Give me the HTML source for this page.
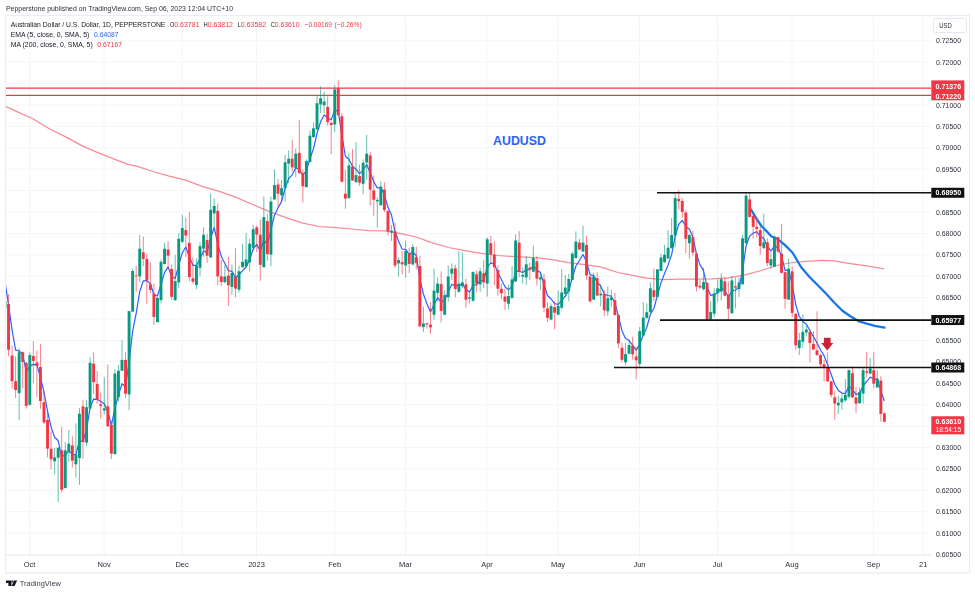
<!DOCTYPE html>
<html><head><meta charset="utf-8"><title>AUDUSD</title>
<style>
html,body{margin:0;padding:0;background:#fff;}
body{width:975px;height:594px;overflow:hidden;position:relative;font-family:"Liberation Sans",sans-serif;}
svg{position:absolute;left:0;top:0;filter:blur(0.45px);}
text{font-family:"Liberation Sans",sans-serif;}
</style></head><body>
<svg width="975" height="594" viewBox="0 0 975 594">
<defs><clipPath id="cp"><rect x="6" y="16" width="925" height="539"/></clipPath></defs>

<rect x="5.5" y="15.5" width="964" height="557.5" fill="#fff" stroke="#ebedf4" stroke-width="1.2"/>
<line x1="6" x2="931" y1="40.80" y2="40.80" stroke="#f3f5f8" stroke-width="1"/>
<line x1="6" x2="931" y1="62.20" y2="62.20" stroke="#f3f5f8" stroke-width="1"/>
<line x1="6" x2="931" y1="83.61" y2="83.61" stroke="#f3f5f8" stroke-width="1"/>
<line x1="6" x2="931" y1="105.01" y2="105.01" stroke="#f3f5f8" stroke-width="1"/>
<line x1="6" x2="931" y1="126.42" y2="126.42" stroke="#f3f5f8" stroke-width="1"/>
<line x1="6" x2="931" y1="147.82" y2="147.82" stroke="#f3f5f8" stroke-width="1"/>
<line x1="6" x2="931" y1="169.22" y2="169.22" stroke="#f3f5f8" stroke-width="1"/>
<line x1="6" x2="931" y1="190.63" y2="190.63" stroke="#f3f5f8" stroke-width="1"/>
<line x1="6" x2="931" y1="212.03" y2="212.03" stroke="#f3f5f8" stroke-width="1"/>
<line x1="6" x2="931" y1="233.44" y2="233.44" stroke="#f3f5f8" stroke-width="1"/>
<line x1="6" x2="931" y1="254.84" y2="254.84" stroke="#f3f5f8" stroke-width="1"/>
<line x1="6" x2="931" y1="276.24" y2="276.24" stroke="#f3f5f8" stroke-width="1"/>
<line x1="6" x2="931" y1="297.65" y2="297.65" stroke="#f3f5f8" stroke-width="1"/>
<line x1="6" x2="931" y1="319.05" y2="319.05" stroke="#f3f5f8" stroke-width="1"/>
<line x1="6" x2="931" y1="340.46" y2="340.46" stroke="#f3f5f8" stroke-width="1"/>
<line x1="6" x2="931" y1="361.86" y2="361.86" stroke="#f3f5f8" stroke-width="1"/>
<line x1="6" x2="931" y1="383.26" y2="383.26" stroke="#f3f5f8" stroke-width="1"/>
<line x1="6" x2="931" y1="404.67" y2="404.67" stroke="#f3f5f8" stroke-width="1"/>
<line x1="6" x2="931" y1="426.07" y2="426.07" stroke="#f3f5f8" stroke-width="1"/>
<line x1="6" x2="931" y1="447.48" y2="447.48" stroke="#f3f5f8" stroke-width="1"/>
<line x1="6" x2="931" y1="468.88" y2="468.88" stroke="#f3f5f8" stroke-width="1"/>
<line x1="6" x2="931" y1="490.28" y2="490.28" stroke="#f3f5f8" stroke-width="1"/>
<line x1="6" x2="931" y1="511.69" y2="511.69" stroke="#f3f5f8" stroke-width="1"/>
<line x1="6" x2="931" y1="533.09" y2="533.09" stroke="#f3f5f8" stroke-width="1"/>
<line x1="6" x2="931" y1="554.50" y2="554.50" stroke="#f3f5f8" stroke-width="1"/>
<line x1="29.6" x2="29.6" y1="16" y2="558" stroke="#f3f5f8" stroke-width="1"/>
<line x1="104.1" x2="104.1" y1="16" y2="558" stroke="#f3f5f8" stroke-width="1"/>
<line x1="182.1" x2="182.1" y1="16" y2="558" stroke="#f3f5f8" stroke-width="1"/>
<line x1="256.5" x2="256.5" y1="16" y2="558" stroke="#f3f5f8" stroke-width="1"/>
<line x1="334.6" x2="334.6" y1="16" y2="558" stroke="#f3f5f8" stroke-width="1"/>
<line x1="405.5" x2="405.5" y1="16" y2="558" stroke="#f3f5f8" stroke-width="1"/>
<line x1="487.0" x2="487.0" y1="16" y2="558" stroke="#f3f5f8" stroke-width="1"/>
<line x1="558.0" x2="558.0" y1="16" y2="558" stroke="#f3f5f8" stroke-width="1"/>
<line x1="639.5" x2="639.5" y1="16" y2="558" stroke="#f3f5f8" stroke-width="1"/>
<line x1="717.5" x2="717.5" y1="16" y2="558" stroke="#f3f5f8" stroke-width="1"/>
<line x1="792.0" x2="792.0" y1="16" y2="558" stroke="#f3f5f8" stroke-width="1"/>
<line x1="873.5" x2="873.5" y1="16" y2="558" stroke="#f3f5f8" stroke-width="1"/>
<line x1="923.2" x2="923.2" y1="16" y2="558" stroke="#f3f5f8" stroke-width="1"/>
<line x1="6" x2="931" y1="555" y2="555" stroke="#e9ebf0" stroke-width="1"/>
<g clip-path="url(#cp)">
<polyline points="6.0,106.5 16.4,111.4 32.8,118.8 49.3,128.7 65.7,136.9 82.1,145.9 98.5,152.8 114.9,159.4 128.0,164.3 136.4,166.2 152.8,171.5 169.3,176.1 185.7,180.2 202.1,186.3 218.5,191.2 234.9,196.9 251.4,204.0 267.8,210.9 286.4,217.8 302.8,223.2 319.3,226.5 335.7,227.7 352.1,229.0 368.5,230.6 384.9,230.9 401.4,233.6 417.8,237.5 430.0,242.1 448.5,247.5 465.0,250.7 481.4,253.4 497.8,255.5 519.3,256.9 535.7,257.7 552.1,259.7 568.5,262.6 584.9,264.6 601.4,267.2 617.8,272.5 630.0,274.8 646.4,278.1 662.8,279.7 679.3,279.2 695.7,279.1 712.1,278.9 728.5,277.9 745.0,274.8 761.4,270.5 776.4,265.5 792.8,262.5 809.3,261.2 822.4,260.4 833.9,260.9 850.3,263.7 866.7,265.8 884.0,268.9" fill="none" stroke="#f78a93" stroke-width="1.25" stroke-linejoin="round"/>
<line x1="6" x2="931.5" y1="88.20" y2="88.20" stroke="#f23645" stroke-width="1.3"/>
<line x1="6" x2="931.5" y1="95.35" y2="95.35" stroke="#f23645" stroke-width="1.3"/>
<polyline points="5.0,282.0 8.5,304.6 12.1,330.1 15.6,350.1 19.2,350.8 22.7,354.5 26.3,371.6 29.8,366.1 33.3,364.4 36.9,364.9 40.4,377.0 44.0,392.1 47.5,411.0 51.1,427.1 54.6,437.2 58.2,440.7 61.7,457.1 65.3,454.8 68.8,451.1 72.4,454.3 75.9,454.5 79.4,440.9 83.0,441.3 86.5,429.9 90.1,407.6 93.6,399.1 97.2,399.3 100.7,401.5 104.3,403.8 107.8,411.3 111.4,425.4 114.9,408.1 118.4,395.6 122.0,383.7 125.5,387.0 129.1,361.7 132.6,331.5 136.2,313.1 139.7,291.6 143.3,280.8 146.8,280.6 150.4,283.7 153.9,294.8 157.5,295.8 161.0,284.5 164.5,272.6 168.1,266.9 171.6,276.9 175.2,278.3 178.7,265.2 182.3,252.8 185.8,247.0 189.4,257.1 192.9,265.3 196.5,265.4 200.0,259.0 203.6,250.9 207.1,252.5 210.6,238.3 214.2,227.5 217.7,243.8 221.3,256.5 224.8,263.2 228.4,270.6 231.9,271.4 235.5,277.1 239.0,275.2 242.6,270.7 246.1,267.0 249.7,259.2 253.2,249.2 256.7,244.4 260.3,251.2 263.8,239.8 267.4,244.6 270.9,230.2 274.5,215.2 278.0,208.0 281.6,201.4 285.1,188.4 288.7,178.5 292.2,174.8 295.8,167.8 299.3,169.5 302.8,175.1 306.4,170.5 309.9,158.9 313.5,148.7 317.0,133.5 320.6,121.7 324.1,115.0 327.7,117.4 331.2,119.9 334.8,109.8 338.3,111.6 341.8,134.9 345.4,156.2 348.9,159.2 352.5,166.3 356.0,169.2 359.6,173.7 363.1,170.1 366.7,164.6 370.2,172.9 373.8,181.9 377.3,187.9 380.9,187.5 384.4,195.0 387.9,207.1 391.5,215.0 395.0,231.8 398.6,241.2 402.1,249.0 405.7,249.7 409.2,254.4 412.8,252.0 416.3,255.7 419.9,279.2 423.4,294.0 427.0,304.1 430.5,311.9 434.0,304.8 437.6,297.7 441.1,302.1 444.7,299.8 448.2,292.0 451.8,284.3 455.3,285.9 458.9,285.1 462.4,284.2 466.0,289.4 469.5,292.0 473.1,285.4 476.6,284.8 480.1,280.3 483.7,281.0 487.2,267.1 490.8,262.9 494.3,264.3 497.9,272.4 501.4,279.4 505.0,286.8 508.5,289.9 512.1,286.4 515.6,271.1 519.1,271.3 522.7,272.5 526.2,269.8 529.8,269.7 533.3,265.8 536.9,270.1 540.4,272.5 544.0,284.3 547.5,295.5 551.1,299.0 554.6,303.6 558.2,304.3 561.7,300.4 565.2,296.1 568.8,290.4 572.3,278.1 575.9,266.0 579.4,260.5 583.0,254.5 586.5,261.5 590.1,274.8 593.6,275.4 597.2,282.1 600.7,286.0 604.3,294.1 607.8,295.5 611.3,296.2 614.9,302.5 618.4,316.1 622.0,330.7 625.5,338.4 629.1,340.6 632.6,345.2 636.2,350.2 639.7,343.9 643.3,335.1 646.8,327.5 650.3,314.4 653.9,308.5 657.4,295.5 661.0,282.8 664.5,273.5 668.1,264.9 671.6,254.9 675.2,236.0 678.7,224.4 682.3,220.3 685.8,226.5 689.4,229.3 692.9,237.1 696.4,253.6 700.0,264.9 703.5,270.6 707.1,286.9 710.6,295.3 714.2,294.7 717.7,292.6 721.3,288.1 724.8,290.6 728.4,296.7 731.9,291.3 735.5,290.0 739.0,287.5 742.5,271.1 746.1,245.9 749.6,236.3 753.2,233.1 756.7,231.7 760.3,236.5 763.8,238.4 767.4,246.6 770.9,250.8 774.5,246.1 778.0,247.9 781.6,256.2 785.1,270.4 788.6,269.8 792.2,284.2 795.7,304.6 799.3,316.5 802.8,321.6 806.4,324.2 809.9,330.5 813.5,336.8 817.0,342.9 820.6,350.0 824.1,355.9 827.6,364.4 831.2,374.5 834.7,384.2 838.3,390.4 841.8,393.1 845.4,393.7 848.9,385.9 852.5,389.7 856.0,394.3 859.6,393.6 863.1,385.8 866.7,381.5 870.2,377.1 873.7,379.3 877.3,379.1 880.8,390.7 884.4,401.0" fill="none" stroke="#2962ff" stroke-width="1.2" stroke-linejoin="round"/>
<polyline points="750.7,209.2 756.4,218.6 761.4,226.0 766.3,230.9 771.5,236.5 777.8,239.0 782.7,243.2 786.3,246.4 792.8,253.0 801.0,267.0 809.3,276.8 817.5,285.0 825.7,293.2 833.9,302.2 842.1,310.5 850.3,316.2 858.5,321.1 866.7,323.6 874.9,325.8 884.5,327.6" fill="none" stroke="#1976e8" stroke-width="2.3" stroke-linejoin="round" stroke-linecap="round"/>
<rect x="4.48" y="300.0" width="1.0" height="8.0" fill="#089981" opacity="0.62"/>
<rect x="3.53" y="301.0" width="2.9" height="6.6" fill="#089981"/>
<rect x="8.02" y="294.2" width="1.0" height="62.1" fill="#f23645" opacity="0.62"/>
<rect x="7.07" y="304.0" width="2.9" height="45.7" fill="#f23645"/>
<rect x="11.57" y="345.6" width="1.0" height="42.7" fill="#f23645" opacity="0.62"/>
<rect x="10.62" y="355.5" width="2.9" height="25.7" fill="#f23645"/>
<rect x="15.12" y="356.3" width="1.0" height="41.7" fill="#f23645" opacity="0.62"/>
<rect x="14.17" y="381.2" width="2.9" height="8.8" fill="#f23645"/>
<rect x="18.66" y="348.4" width="1.0" height="71.6" fill="#089981" opacity="0.62"/>
<rect x="17.71" y="352.2" width="2.9" height="41.0" fill="#089981"/>
<rect x="22.21" y="351.3" width="1.0" height="37.0" fill="#f23645" opacity="0.62"/>
<rect x="21.26" y="352.2" width="2.9" height="9.8" fill="#f23645"/>
<rect x="25.75" y="362.0" width="1.0" height="46.5" fill="#f23645" opacity="0.62"/>
<rect x="24.80" y="362.8" width="2.9" height="43.1" fill="#f23645"/>
<rect x="29.30" y="352.2" width="1.0" height="53.3" fill="#089981" opacity="0.62"/>
<rect x="28.35" y="355.0" width="2.9" height="49.7" fill="#089981"/>
<rect x="32.85" y="341.2" width="1.0" height="41.7" fill="#f23645" opacity="0.62"/>
<rect x="31.90" y="356.0" width="2.9" height="4.9" fill="#f23645"/>
<rect x="36.39" y="350.5" width="1.0" height="46.5" fill="#f23645" opacity="0.62"/>
<rect x="35.44" y="362.5" width="2.9" height="3.6" fill="#f23645"/>
<rect x="39.94" y="344.0" width="1.0" height="64.8" fill="#f23645" opacity="0.62"/>
<rect x="38.99" y="367.0" width="2.9" height="34.0" fill="#f23645"/>
<rect x="43.48" y="390.8" width="1.0" height="33.2" fill="#f23645" opacity="0.62"/>
<rect x="42.53" y="402.2" width="2.9" height="20.2" fill="#f23645"/>
<rect x="47.03" y="413.0" width="1.0" height="44.4" fill="#f23645" opacity="0.62"/>
<rect x="46.08" y="420.0" width="2.9" height="28.7" fill="#f23645"/>
<rect x="50.58" y="431.4" width="1.0" height="37.8" fill="#f23645" opacity="0.62"/>
<rect x="49.63" y="448.7" width="2.9" height="10.6" fill="#f23645"/>
<rect x="54.12" y="447.8" width="1.0" height="26.6" fill="#089981" opacity="0.62"/>
<rect x="53.17" y="457.4" width="2.9" height="3.9" fill="#089981"/>
<rect x="57.67" y="447.0" width="1.0" height="55.0" fill="#089981" opacity="0.62"/>
<rect x="56.72" y="447.8" width="2.9" height="9.9" fill="#089981"/>
<rect x="61.21" y="426.8" width="1.0" height="65.7" fill="#f23645" opacity="0.62"/>
<rect x="60.26" y="450.3" width="2.9" height="39.4" fill="#f23645"/>
<rect x="64.76" y="442.0" width="1.0" height="46.5" fill="#089981" opacity="0.62"/>
<rect x="63.81" y="450.3" width="2.9" height="37.7" fill="#089981"/>
<rect x="68.31" y="430.0" width="1.0" height="31.8" fill="#089981" opacity="0.62"/>
<rect x="67.36" y="443.7" width="2.9" height="8.3" fill="#089981"/>
<rect x="71.85" y="436.3" width="1.0" height="31.2" fill="#f23645" opacity="0.62"/>
<rect x="70.90" y="445.4" width="2.9" height="15.2" fill="#f23645"/>
<rect x="75.40" y="423.2" width="1.0" height="54.2" fill="#089981" opacity="0.62"/>
<rect x="74.45" y="454.9" width="2.9" height="9.4" fill="#089981"/>
<rect x="78.94" y="408.0" width="1.0" height="76.8" fill="#089981" opacity="0.62"/>
<rect x="77.99" y="413.7" width="2.9" height="44.3" fill="#089981"/>
<rect x="82.49" y="399.8" width="1.0" height="59.2" fill="#f23645" opacity="0.62"/>
<rect x="81.54" y="406.4" width="2.9" height="35.7" fill="#f23645"/>
<rect x="86.04" y="399.8" width="1.0" height="46.7" fill="#089981" opacity="0.62"/>
<rect x="85.09" y="407.2" width="2.9" height="35.4" fill="#089981"/>
<rect x="89.58" y="357.1" width="1.0" height="51.9" fill="#089981" opacity="0.62"/>
<rect x="88.63" y="362.8" width="2.9" height="45.7" fill="#089981"/>
<rect x="93.13" y="352.2" width="1.0" height="41.8" fill="#f23645" opacity="0.62"/>
<rect x="92.18" y="363.7" width="2.9" height="18.5" fill="#f23645"/>
<rect x="96.67" y="371.0" width="1.0" height="32.9" fill="#f23645" opacity="0.62"/>
<rect x="95.72" y="383.9" width="2.9" height="15.9" fill="#f23645"/>
<rect x="100.22" y="392.4" width="1.0" height="26.1" fill="#f23645" opacity="0.62"/>
<rect x="99.27" y="404.2" width="2.9" height="1.7" fill="#f23645"/>
<rect x="103.77" y="377.3" width="1.0" height="37.3" fill="#089981" opacity="0.62"/>
<rect x="102.82" y="408.3" width="2.9" height="2.2" fill="#089981"/>
<rect x="107.31" y="364.5" width="1.0" height="62.5" fill="#f23645" opacity="0.62"/>
<rect x="106.36" y="406.4" width="2.9" height="19.8" fill="#f23645"/>
<rect x="110.86" y="421.0" width="1.0" height="38.0" fill="#f23645" opacity="0.62"/>
<rect x="109.91" y="425.0" width="2.9" height="28.6" fill="#f23645"/>
<rect x="114.40" y="369.0" width="1.0" height="85.5" fill="#089981" opacity="0.62"/>
<rect x="113.45" y="373.5" width="2.9" height="80.6" fill="#089981"/>
<rect x="117.95" y="365.3" width="1.0" height="36.1" fill="#089981" opacity="0.62"/>
<rect x="117.00" y="370.7" width="2.9" height="26.6" fill="#089981"/>
<rect x="121.50" y="340.2" width="1.0" height="30.8" fill="#089981" opacity="0.62"/>
<rect x="120.55" y="359.9" width="2.9" height="10.8" fill="#089981"/>
<rect x="125.04" y="352.2" width="1.0" height="45.9" fill="#f23645" opacity="0.62"/>
<rect x="124.09" y="359.9" width="2.9" height="33.8" fill="#f23645"/>
<rect x="128.59" y="311.0" width="1.0" height="99.1" fill="#089981" opacity="0.62"/>
<rect x="127.64" y="311.1" width="2.9" height="83.3" fill="#089981"/>
<rect x="132.13" y="268.9" width="1.0" height="43.1" fill="#089981" opacity="0.62"/>
<rect x="131.18" y="271.0" width="2.9" height="40.6" fill="#089981"/>
<rect x="135.68" y="265.6" width="1.0" height="26.3" fill="#f23645" opacity="0.62"/>
<rect x="134.73" y="275.5" width="2.9" height="0.8" fill="#f23645"/>
<rect x="139.23" y="234.7" width="1.0" height="47.3" fill="#089981" opacity="0.62"/>
<rect x="138.28" y="248.7" width="2.9" height="27.6" fill="#089981"/>
<rect x="142.77" y="236.4" width="1.0" height="30.0" fill="#f23645" opacity="0.62"/>
<rect x="141.82" y="252.3" width="2.9" height="6.7" fill="#f23645"/>
<rect x="146.32" y="253.9" width="1.0" height="50.0" fill="#f23645" opacity="0.62"/>
<rect x="145.37" y="259.0" width="2.9" height="21.4" fill="#f23645"/>
<rect x="149.86" y="262.3" width="1.0" height="30.7" fill="#f23645" opacity="0.62"/>
<rect x="148.91" y="284.5" width="2.9" height="5.4" fill="#f23645"/>
<rect x="153.41" y="283.7" width="1.0" height="41.5" fill="#f23645" opacity="0.62"/>
<rect x="152.46" y="293.5" width="2.9" height="23.5" fill="#f23645"/>
<rect x="156.96" y="296.8" width="1.0" height="25.7" fill="#089981" opacity="0.62"/>
<rect x="156.01" y="297.9" width="2.9" height="24.3" fill="#089981"/>
<rect x="160.50" y="259.5" width="1.0" height="43.9" fill="#089981" opacity="0.62"/>
<rect x="159.55" y="261.8" width="2.9" height="38.3" fill="#089981"/>
<rect x="164.05" y="242.9" width="1.0" height="21.4" fill="#089981" opacity="0.62"/>
<rect x="163.10" y="248.7" width="2.9" height="15.3" fill="#089981"/>
<rect x="167.59" y="241.3" width="1.0" height="27.6" fill="#f23645" opacity="0.62"/>
<rect x="166.64" y="249.5" width="2.9" height="6.2" fill="#f23645"/>
<rect x="171.14" y="264.4" width="1.0" height="35.7" fill="#f23645" opacity="0.62"/>
<rect x="170.19" y="268.9" width="2.9" height="27.9" fill="#f23645"/>
<rect x="174.69" y="254.9" width="1.0" height="46.3" fill="#089981" opacity="0.62"/>
<rect x="173.74" y="281.2" width="2.9" height="18.9" fill="#089981"/>
<rect x="178.23" y="233.1" width="1.0" height="55.0" fill="#089981" opacity="0.62"/>
<rect x="177.28" y="238.8" width="2.9" height="43.7" fill="#089981"/>
<rect x="181.78" y="214.7" width="1.0" height="28.3" fill="#089981" opacity="0.62"/>
<rect x="180.83" y="228.1" width="2.9" height="13.7" fill="#089981"/>
<rect x="185.32" y="217.5" width="1.0" height="39.9" fill="#f23645" opacity="0.62"/>
<rect x="184.37" y="230.1" width="2.9" height="5.4" fill="#f23645"/>
<rect x="188.87" y="211.7" width="1.0" height="69.5" fill="#f23645" opacity="0.62"/>
<rect x="187.92" y="242.9" width="2.9" height="34.2" fill="#f23645"/>
<rect x="192.42" y="257.4" width="1.0" height="26.3" fill="#f23645" opacity="0.62"/>
<rect x="191.47" y="278.2" width="2.9" height="3.5" fill="#f23645"/>
<rect x="195.96" y="258.2" width="1.0" height="30.9" fill="#089981" opacity="0.62"/>
<rect x="195.01" y="265.6" width="2.9" height="19.4" fill="#089981"/>
<rect x="199.51" y="242.1" width="1.0" height="34.2" fill="#089981" opacity="0.62"/>
<rect x="198.56" y="246.2" width="2.9" height="21.5" fill="#089981"/>
<rect x="203.05" y="227.3" width="1.0" height="29.3" fill="#089981" opacity="0.62"/>
<rect x="202.10" y="234.7" width="2.9" height="14.0" fill="#089981"/>
<rect x="206.60" y="233.9" width="1.0" height="28.9" fill="#f23645" opacity="0.62"/>
<rect x="205.65" y="240.0" width="2.9" height="15.7" fill="#f23645"/>
<rect x="210.15" y="193.3" width="1.0" height="64.7" fill="#089981" opacity="0.62"/>
<rect x="209.20" y="209.8" width="2.9" height="47.6" fill="#089981"/>
<rect x="213.69" y="198.6" width="1.0" height="28.4" fill="#089981" opacity="0.62"/>
<rect x="212.74" y="206.0" width="2.9" height="7.4" fill="#089981"/>
<rect x="217.24" y="203.5" width="1.0" height="81.8" fill="#f23645" opacity="0.62"/>
<rect x="216.29" y="210.9" width="2.9" height="65.4" fill="#f23645"/>
<rect x="220.78" y="259.9" width="1.0" height="26.2" fill="#f23645" opacity="0.62"/>
<rect x="219.83" y="276.3" width="2.9" height="5.7" fill="#f23645"/>
<rect x="224.33" y="264.8" width="1.0" height="18.9" fill="#089981" opacity="0.62"/>
<rect x="223.38" y="276.6" width="2.9" height="5.4" fill="#089981"/>
<rect x="227.88" y="256.9" width="1.0" height="49.3" fill="#f23645" opacity="0.62"/>
<rect x="226.93" y="275.5" width="2.9" height="9.8" fill="#f23645"/>
<rect x="231.42" y="264.4" width="1.0" height="30.3" fill="#089981" opacity="0.62"/>
<rect x="230.47" y="273.0" width="2.9" height="13.9" fill="#089981"/>
<rect x="234.97" y="247.8" width="1.0" height="49.5" fill="#f23645" opacity="0.62"/>
<rect x="234.02" y="276.6" width="2.9" height="12.0" fill="#f23645"/>
<rect x="238.51" y="265.6" width="1.0" height="27.1" fill="#089981" opacity="0.62"/>
<rect x="237.56" y="271.3" width="2.9" height="18.4" fill="#089981"/>
<rect x="242.06" y="243.7" width="1.0" height="23.8" fill="#089981" opacity="0.62"/>
<rect x="241.11" y="261.8" width="2.9" height="5.4" fill="#089981"/>
<rect x="245.61" y="233.1" width="1.0" height="33.7" fill="#089981" opacity="0.62"/>
<rect x="244.66" y="259.5" width="2.9" height="6.9" fill="#089981"/>
<rect x="249.15" y="238.8" width="1.0" height="32.5" fill="#089981" opacity="0.62"/>
<rect x="248.20" y="243.7" width="2.9" height="18.6" fill="#089981"/>
<rect x="252.70" y="224.9" width="1.0" height="25.1" fill="#089981" opacity="0.62"/>
<rect x="251.75" y="229.3" width="2.9" height="18.5" fill="#089981"/>
<rect x="256.24" y="225.4" width="1.0" height="26.6" fill="#f23645" opacity="0.62"/>
<rect x="255.29" y="227.3" width="2.9" height="7.4" fill="#f23645"/>
<rect x="259.79" y="219.1" width="1.0" height="61.8" fill="#f23645" opacity="0.62"/>
<rect x="258.84" y="234.7" width="2.9" height="30.1" fill="#f23645"/>
<rect x="263.34" y="196.5" width="1.0" height="71.0" fill="#089981" opacity="0.62"/>
<rect x="262.39" y="217.1" width="2.9" height="50.1" fill="#089981"/>
<rect x="266.88" y="214.2" width="1.0" height="46.5" fill="#f23645" opacity="0.62"/>
<rect x="265.93" y="221.1" width="2.9" height="33.0" fill="#f23645"/>
<rect x="270.43" y="196.5" width="1.0" height="69.6" fill="#089981" opacity="0.62"/>
<rect x="269.48" y="201.5" width="2.9" height="53.1" fill="#089981"/>
<rect x="273.97" y="169.5" width="1.0" height="30.5" fill="#089981" opacity="0.62"/>
<rect x="273.02" y="185.0" width="2.9" height="14.4" fill="#089981"/>
<rect x="277.52" y="178.9" width="1.0" height="27.9" fill="#f23645" opacity="0.62"/>
<rect x="276.57" y="184.5" width="2.9" height="9.2" fill="#f23645"/>
<rect x="281.07" y="180.0" width="1.0" height="21.9" fill="#089981" opacity="0.62"/>
<rect x="280.12" y="188.2" width="2.9" height="7.1" fill="#089981"/>
<rect x="284.61" y="154.6" width="1.0" height="46.9" fill="#089981" opacity="0.62"/>
<rect x="283.66" y="162.3" width="2.9" height="25.9" fill="#089981"/>
<rect x="288.16" y="150.5" width="1.0" height="32.5" fill="#089981" opacity="0.62"/>
<rect x="287.21" y="158.7" width="2.9" height="4.9" fill="#089981"/>
<rect x="291.70" y="139.8" width="1.0" height="31.7" fill="#f23645" opacity="0.62"/>
<rect x="290.75" y="158.7" width="2.9" height="8.7" fill="#f23645"/>
<rect x="295.25" y="148.5" width="1.0" height="28.7" fill="#089981" opacity="0.62"/>
<rect x="294.30" y="153.7" width="2.9" height="14.5" fill="#089981"/>
<rect x="298.80" y="120.1" width="1.0" height="53.9" fill="#f23645" opacity="0.62"/>
<rect x="297.85" y="152.9" width="2.9" height="20.2" fill="#f23645"/>
<rect x="302.34" y="169.5" width="1.0" height="32.9" fill="#f23645" opacity="0.62"/>
<rect x="301.39" y="173.1" width="2.9" height="13.2" fill="#f23645"/>
<rect x="305.89" y="159.5" width="1.0" height="28.0" fill="#089981" opacity="0.62"/>
<rect x="304.94" y="161.1" width="2.9" height="26.0" fill="#089981"/>
<rect x="309.43" y="130.4" width="1.0" height="31.9" fill="#089981" opacity="0.62"/>
<rect x="308.48" y="135.7" width="2.9" height="26.3" fill="#089981"/>
<rect x="312.98" y="122.5" width="1.0" height="15.5" fill="#089981" opacity="0.62"/>
<rect x="312.03" y="128.3" width="2.9" height="8.7" fill="#089981"/>
<rect x="316.53" y="95.5" width="1.0" height="34.5" fill="#089981" opacity="0.62"/>
<rect x="315.58" y="103.2" width="2.9" height="25.9" fill="#089981"/>
<rect x="320.07" y="86.4" width="1.0" height="26.6" fill="#089981" opacity="0.62"/>
<rect x="319.12" y="98.2" width="2.9" height="6.3" fill="#089981"/>
<rect x="323.62" y="91.7" width="1.0" height="21.3" fill="#089981" opacity="0.62"/>
<rect x="322.67" y="101.5" width="2.9" height="3.8" fill="#089981"/>
<rect x="327.16" y="96.3" width="1.0" height="29.2" fill="#f23645" opacity="0.62"/>
<rect x="326.21" y="106.9" width="2.9" height="15.3" fill="#f23645"/>
<rect x="330.71" y="121.5" width="1.0" height="32.6" fill="#f23645" opacity="0.62"/>
<rect x="329.76" y="122.9" width="2.9" height="2.1" fill="#f23645"/>
<rect x="334.26" y="85.1" width="1.0" height="47.0" fill="#089981" opacity="0.62"/>
<rect x="333.31" y="89.4" width="2.9" height="35.1" fill="#089981"/>
<rect x="337.80" y="80.2" width="1.0" height="35.3" fill="#f23645" opacity="0.62"/>
<rect x="336.85" y="88.4" width="2.9" height="26.8" fill="#f23645"/>
<rect x="341.35" y="113.0" width="1.0" height="69.5" fill="#f23645" opacity="0.62"/>
<rect x="340.40" y="116.3" width="2.9" height="65.4" fill="#f23645"/>
<rect x="344.89" y="170.2" width="1.0" height="38.7" fill="#f23645" opacity="0.62"/>
<rect x="343.94" y="193.7" width="2.9" height="4.9" fill="#f23645"/>
<rect x="348.44" y="152.9" width="1.0" height="45.7" fill="#089981" opacity="0.62"/>
<rect x="347.49" y="165.3" width="2.9" height="32.8" fill="#089981"/>
<rect x="351.99" y="149.1" width="1.0" height="31.9" fill="#f23645" opacity="0.62"/>
<rect x="351.04" y="166.6" width="2.9" height="13.9" fill="#f23645"/>
<rect x="355.53" y="142.2" width="1.0" height="40.5" fill="#089981" opacity="0.62"/>
<rect x="354.58" y="175.1" width="2.9" height="7.1" fill="#089981"/>
<rect x="359.08" y="164.4" width="1.0" height="21.5" fill="#f23645" opacity="0.62"/>
<rect x="358.13" y="176.1" width="2.9" height="6.6" fill="#f23645"/>
<rect x="362.62" y="159.5" width="1.0" height="34.7" fill="#089981" opacity="0.62"/>
<rect x="361.67" y="162.8" width="2.9" height="21.0" fill="#089981"/>
<rect x="366.17" y="134.9" width="1.0" height="44.8" fill="#089981" opacity="0.62"/>
<rect x="365.22" y="153.7" width="2.9" height="8.8" fill="#089981"/>
<rect x="369.72" y="152.1" width="1.0" height="53.1" fill="#f23645" opacity="0.62"/>
<rect x="368.77" y="155.4" width="2.9" height="34.2" fill="#f23645"/>
<rect x="373.26" y="175.6" width="1.0" height="40.2" fill="#f23645" opacity="0.62"/>
<rect x="372.31" y="190.4" width="2.9" height="9.3" fill="#f23645"/>
<rect x="376.81" y="197.4" width="1.0" height="30.3" fill="#089981" opacity="0.62"/>
<rect x="375.86" y="199.9" width="2.9" height="1.5" fill="#089981"/>
<rect x="380.35" y="181.3" width="1.0" height="24.3" fill="#089981" opacity="0.62"/>
<rect x="379.40" y="186.6" width="2.9" height="18.6" fill="#089981"/>
<rect x="383.90" y="182.2" width="1.0" height="30.0" fill="#f23645" opacity="0.62"/>
<rect x="382.95" y="189.6" width="2.9" height="20.5" fill="#f23645"/>
<rect x="387.45" y="210.0" width="1.0" height="25.5" fill="#f23645" opacity="0.62"/>
<rect x="386.50" y="210.9" width="2.9" height="20.5" fill="#f23645"/>
<rect x="390.99" y="224.9" width="1.0" height="15.9" fill="#089981" opacity="0.62"/>
<rect x="390.04" y="230.6" width="2.9" height="2.0" fill="#089981"/>
<rect x="394.54" y="222.7" width="1.0" height="45.3" fill="#f23645" opacity="0.62"/>
<rect x="393.59" y="231.4" width="2.9" height="34.1" fill="#f23645"/>
<rect x="398.08" y="257.3" width="1.0" height="19.2" fill="#089981" opacity="0.62"/>
<rect x="397.13" y="260.1" width="2.9" height="3.3" fill="#089981"/>
<rect x="401.63" y="251.1" width="1.0" height="23.5" fill="#f23645" opacity="0.62"/>
<rect x="400.68" y="262.2" width="2.9" height="2.2" fill="#f23645"/>
<rect x="405.18" y="240.5" width="1.0" height="37.0" fill="#089981" opacity="0.62"/>
<rect x="404.23" y="251.2" width="2.9" height="14.3" fill="#089981"/>
<rect x="408.72" y="247.8" width="1.0" height="25.4" fill="#f23645" opacity="0.62"/>
<rect x="407.77" y="253.2" width="2.9" height="10.7" fill="#f23645"/>
<rect x="412.27" y="243.7" width="1.0" height="21.8" fill="#089981" opacity="0.62"/>
<rect x="411.32" y="247.0" width="2.9" height="17.4" fill="#089981"/>
<rect x="415.81" y="246.7" width="1.0" height="22.6" fill="#f23645" opacity="0.62"/>
<rect x="414.86" y="257.3" width="2.9" height="5.8" fill="#f23645"/>
<rect x="419.36" y="255.7" width="1.0" height="71.1" fill="#f23645" opacity="0.62"/>
<rect x="418.41" y="266.0" width="2.9" height="60.3" fill="#f23645"/>
<rect x="422.91" y="306.6" width="1.0" height="25.4" fill="#089981" opacity="0.62"/>
<rect x="421.96" y="323.5" width="2.9" height="3.6" fill="#089981"/>
<rect x="426.45" y="323.0" width="1.0" height="5.7" fill="#f23645" opacity="0.62"/>
<rect x="425.50" y="323.2" width="2.9" height="1.2" fill="#f23645"/>
<rect x="430.00" y="302.1" width="1.0" height="31.6" fill="#f23645" opacity="0.62"/>
<rect x="429.05" y="324.6" width="2.9" height="2.8" fill="#f23645"/>
<rect x="433.54" y="268.8" width="1.0" height="50.9" fill="#089981" opacity="0.62"/>
<rect x="432.59" y="290.6" width="2.9" height="24.2" fill="#089981"/>
<rect x="437.09" y="277.8" width="1.0" height="23.9" fill="#089981" opacity="0.62"/>
<rect x="436.14" y="283.6" width="2.9" height="9.3" fill="#089981"/>
<rect x="440.64" y="271.3" width="1.0" height="51.2" fill="#f23645" opacity="0.62"/>
<rect x="439.69" y="284.1" width="2.9" height="26.9" fill="#f23645"/>
<rect x="444.18" y="290.2" width="1.0" height="24.8" fill="#089981" opacity="0.62"/>
<rect x="443.23" y="295.1" width="2.9" height="19.7" fill="#089981"/>
<rect x="447.73" y="265.5" width="1.0" height="36.2" fill="#089981" opacity="0.62"/>
<rect x="446.78" y="276.5" width="2.9" height="20.7" fill="#089981"/>
<rect x="451.27" y="263.4" width="1.0" height="16.9" fill="#089981" opacity="0.62"/>
<rect x="450.32" y="268.8" width="2.9" height="4.9" fill="#089981"/>
<rect x="454.82" y="264.7" width="1.0" height="32.8" fill="#f23645" opacity="0.62"/>
<rect x="453.87" y="268.3" width="2.9" height="20.7" fill="#f23645"/>
<rect x="458.37" y="251.2" width="1.0" height="41.4" fill="#089981" opacity="0.62"/>
<rect x="457.42" y="283.6" width="2.9" height="8.2" fill="#089981"/>
<rect x="461.91" y="252.4" width="1.0" height="35.6" fill="#089981" opacity="0.62"/>
<rect x="460.96" y="282.4" width="2.9" height="3.7" fill="#089981"/>
<rect x="465.46" y="278.7" width="1.0" height="29.0" fill="#f23645" opacity="0.62"/>
<rect x="464.51" y="284.4" width="2.9" height="15.3" fill="#f23645"/>
<rect x="469.00" y="291.8" width="1.0" height="11.5" fill="#089981" opacity="0.62"/>
<rect x="468.05" y="297.2" width="2.9" height="1.4" fill="#089981"/>
<rect x="472.55" y="271.3" width="1.0" height="30.3" fill="#089981" opacity="0.62"/>
<rect x="471.60" y="272.1" width="2.9" height="28.7" fill="#089981"/>
<rect x="476.10" y="270.5" width="1.0" height="21.3" fill="#f23645" opacity="0.62"/>
<rect x="475.15" y="274.2" width="2.9" height="9.4" fill="#f23645"/>
<rect x="479.64" y="267.7" width="1.0" height="24.1" fill="#089981" opacity="0.62"/>
<rect x="478.69" y="271.3" width="2.9" height="13.1" fill="#089981"/>
<rect x="483.19" y="260.1" width="1.0" height="27.9" fill="#f23645" opacity="0.62"/>
<rect x="482.24" y="273.2" width="2.9" height="9.2" fill="#f23645"/>
<rect x="486.73" y="237.2" width="1.0" height="59.3" fill="#089981" opacity="0.62"/>
<rect x="485.78" y="239.3" width="2.9" height="44.3" fill="#089981"/>
<rect x="490.28" y="236.0" width="1.0" height="26.6" fill="#f23645" opacity="0.62"/>
<rect x="489.33" y="243.2" width="2.9" height="11.2" fill="#f23645"/>
<rect x="493.83" y="241.3" width="1.0" height="44.1" fill="#f23645" opacity="0.62"/>
<rect x="492.88" y="254.6" width="2.9" height="12.6" fill="#f23645"/>
<rect x="497.37" y="265.3" width="1.0" height="30.2" fill="#f23645" opacity="0.62"/>
<rect x="496.42" y="270.0" width="2.9" height="18.7" fill="#f23645"/>
<rect x="500.92" y="284.0" width="1.0" height="15.4" fill="#f23645" opacity="0.62"/>
<rect x="499.97" y="288.8" width="2.9" height="4.4" fill="#f23645"/>
<rect x="504.46" y="288.5" width="1.0" height="21.6" fill="#f23645" opacity="0.62"/>
<rect x="503.51" y="296.5" width="2.9" height="5.2" fill="#f23645"/>
<rect x="508.01" y="284.6" width="1.0" height="24.8" fill="#089981" opacity="0.62"/>
<rect x="507.06" y="296.1" width="2.9" height="7.6" fill="#089981"/>
<rect x="511.56" y="266.2" width="1.0" height="32.5" fill="#089981" opacity="0.62"/>
<rect x="510.61" y="279.4" width="2.9" height="18.5" fill="#089981"/>
<rect x="515.10" y="234.4" width="1.0" height="47.9" fill="#089981" opacity="0.62"/>
<rect x="514.15" y="240.5" width="2.9" height="41.0" fill="#089981"/>
<rect x="518.65" y="231.1" width="1.0" height="46.3" fill="#f23645" opacity="0.62"/>
<rect x="517.70" y="242.6" width="2.9" height="29.1" fill="#f23645"/>
<rect x="522.19" y="267.5" width="1.0" height="16.1" fill="#089981" opacity="0.62"/>
<rect x="521.24" y="274.9" width="2.9" height="1.7" fill="#089981"/>
<rect x="525.74" y="256.0" width="1.0" height="28.8" fill="#089981" opacity="0.62"/>
<rect x="524.79" y="264.3" width="2.9" height="13.1" fill="#089981"/>
<rect x="529.29" y="262.6" width="1.0" height="17.3" fill="#f23645" opacity="0.62"/>
<rect x="528.34" y="267.5" width="2.9" height="2.0" fill="#f23645"/>
<rect x="532.83" y="245.4" width="1.0" height="27.1" fill="#089981" opacity="0.62"/>
<rect x="531.88" y="258.0" width="2.9" height="13.7" fill="#089981"/>
<rect x="536.38" y="256.4" width="1.0" height="29.2" fill="#f23645" opacity="0.62"/>
<rect x="535.43" y="261.3" width="2.9" height="17.4" fill="#f23645"/>
<rect x="539.92" y="271.7" width="1.0" height="18.0" fill="#089981" opacity="0.62"/>
<rect x="538.97" y="277.4" width="2.9" height="2.0" fill="#089981"/>
<rect x="543.47" y="273.8" width="1.0" height="38.4" fill="#f23645" opacity="0.62"/>
<rect x="542.52" y="279.4" width="2.9" height="28.3" fill="#f23645"/>
<rect x="547.02" y="302.3" width="1.0" height="19.7" fill="#f23645" opacity="0.62"/>
<rect x="546.07" y="308.4" width="2.9" height="9.5" fill="#f23645"/>
<rect x="550.56" y="303.5" width="1.0" height="16.9" fill="#089981" opacity="0.62"/>
<rect x="549.61" y="306.1" width="2.9" height="13.5" fill="#089981"/>
<rect x="554.11" y="301.3" width="1.0" height="28.1" fill="#f23645" opacity="0.62"/>
<rect x="553.16" y="307.2" width="2.9" height="5.5" fill="#f23645"/>
<rect x="557.65" y="290.5" width="1.0" height="25.0" fill="#089981" opacity="0.62"/>
<rect x="556.70" y="305.8" width="2.9" height="8.8" fill="#089981"/>
<rect x="561.20" y="269.2" width="1.0" height="40.2" fill="#089981" opacity="0.62"/>
<rect x="560.25" y="292.5" width="2.9" height="15.2" fill="#089981"/>
<rect x="564.75" y="274.9" width="1.0" height="22.1" fill="#089981" opacity="0.62"/>
<rect x="563.80" y="287.6" width="2.9" height="6.2" fill="#089981"/>
<rect x="568.29" y="273.8" width="1.0" height="27.5" fill="#089981" opacity="0.62"/>
<rect x="567.34" y="279.0" width="2.9" height="12.4" fill="#089981"/>
<rect x="571.84" y="251.9" width="1.0" height="28.4" fill="#089981" opacity="0.62"/>
<rect x="570.89" y="253.6" width="2.9" height="26.3" fill="#089981"/>
<rect x="575.38" y="231.4" width="1.0" height="27.1" fill="#089981" opacity="0.62"/>
<rect x="574.43" y="241.6" width="2.9" height="16.4" fill="#089981"/>
<rect x="578.93" y="238.8" width="1.0" height="11.5" fill="#f23645" opacity="0.62"/>
<rect x="577.98" y="242.6" width="2.9" height="6.9" fill="#f23645"/>
<rect x="582.48" y="225.7" width="1.0" height="26.3" fill="#089981" opacity="0.62"/>
<rect x="581.53" y="242.6" width="2.9" height="8.9" fill="#089981"/>
<rect x="586.02" y="235.5" width="1.0" height="44.4" fill="#f23645" opacity="0.62"/>
<rect x="585.07" y="244.9" width="2.9" height="30.5" fill="#f23645"/>
<rect x="589.57" y="275.8" width="1.0" height="27.0" fill="#f23645" opacity="0.62"/>
<rect x="588.62" y="276.6" width="2.9" height="24.7" fill="#f23645"/>
<rect x="593.11" y="272.5" width="1.0" height="27.5" fill="#089981" opacity="0.62"/>
<rect x="592.16" y="276.6" width="2.9" height="23.0" fill="#089981"/>
<rect x="596.66" y="272.1" width="1.0" height="23.9" fill="#f23645" opacity="0.62"/>
<rect x="595.71" y="278.2" width="2.9" height="17.4" fill="#f23645"/>
<rect x="600.21" y="284.0" width="1.0" height="22.3" fill="#089981" opacity="0.62"/>
<rect x="599.26" y="293.7" width="2.9" height="1.7" fill="#089981"/>
<rect x="603.75" y="289.7" width="1.0" height="26.6" fill="#f23645" opacity="0.62"/>
<rect x="602.80" y="294.1" width="2.9" height="16.2" fill="#f23645"/>
<rect x="607.30" y="286.4" width="1.0" height="29.5" fill="#089981" opacity="0.62"/>
<rect x="606.35" y="298.3" width="2.9" height="13.0" fill="#089981"/>
<rect x="610.84" y="289.7" width="1.0" height="16.7" fill="#089981" opacity="0.62"/>
<rect x="609.89" y="297.6" width="2.9" height="2.5" fill="#089981"/>
<rect x="614.39" y="292.7" width="1.0" height="22.8" fill="#f23645" opacity="0.62"/>
<rect x="613.44" y="300.1" width="2.9" height="14.9" fill="#f23645"/>
<rect x="617.94" y="314.3" width="1.0" height="34.0" fill="#f23645" opacity="0.62"/>
<rect x="616.99" y="315.0" width="2.9" height="28.4" fill="#f23645"/>
<rect x="621.48" y="342.5" width="1.0" height="19.7" fill="#f23645" opacity="0.62"/>
<rect x="620.53" y="347.8" width="2.9" height="12.0" fill="#f23645"/>
<rect x="625.03" y="342.9" width="1.0" height="22.3" fill="#089981" opacity="0.62"/>
<rect x="624.08" y="354.0" width="2.9" height="8.2" fill="#089981"/>
<rect x="628.57" y="339.3" width="1.0" height="15.1" fill="#089981" opacity="0.62"/>
<rect x="627.62" y="345.0" width="2.9" height="8.7" fill="#089981"/>
<rect x="632.12" y="336.8" width="1.0" height="23.0" fill="#f23645" opacity="0.62"/>
<rect x="631.17" y="345.8" width="2.9" height="8.6" fill="#f23645"/>
<rect x="635.67" y="346.7" width="1.0" height="32.8" fill="#f23645" opacity="0.62"/>
<rect x="634.72" y="356.5" width="2.9" height="3.8" fill="#f23645"/>
<rect x="639.21" y="326.9" width="1.0" height="40.3" fill="#089981" opacity="0.62"/>
<rect x="638.26" y="331.1" width="2.9" height="32.8" fill="#089981"/>
<rect x="642.76" y="302.3" width="1.0" height="33.7" fill="#089981" opacity="0.62"/>
<rect x="641.81" y="317.6" width="2.9" height="17.9" fill="#089981"/>
<rect x="646.30" y="303.5" width="1.0" height="15.2" fill="#089981" opacity="0.62"/>
<rect x="645.35" y="312.2" width="2.9" height="5.7" fill="#089981"/>
<rect x="649.85" y="282.5" width="1.0" height="30.1" fill="#089981" opacity="0.62"/>
<rect x="648.90" y="288.3" width="2.9" height="23.9" fill="#089981"/>
<rect x="653.40" y="268.6" width="1.0" height="32.4" fill="#f23645" opacity="0.62"/>
<rect x="652.45" y="290.2" width="2.9" height="6.6" fill="#f23645"/>
<rect x="656.94" y="269.0" width="1.0" height="28.2" fill="#089981" opacity="0.62"/>
<rect x="655.99" y="269.4" width="2.9" height="27.4" fill="#089981"/>
<rect x="660.49" y="253.9" width="1.0" height="17.6" fill="#089981" opacity="0.62"/>
<rect x="659.54" y="257.5" width="2.9" height="13.5" fill="#089981"/>
<rect x="664.03" y="244.9" width="1.0" height="18.1" fill="#089981" opacity="0.62"/>
<rect x="663.08" y="254.7" width="2.9" height="7.4" fill="#089981"/>
<rect x="667.58" y="230.1" width="1.0" height="28.9" fill="#089981" opacity="0.62"/>
<rect x="666.63" y="247.7" width="2.9" height="10.8" fill="#089981"/>
<rect x="671.13" y="218.1" width="1.0" height="30.5" fill="#089981" opacity="0.62"/>
<rect x="670.18" y="235.0" width="2.9" height="13.1" fill="#089981"/>
<rect x="674.67" y="193.5" width="1.0" height="53.8" fill="#089981" opacity="0.62"/>
<rect x="673.72" y="198.1" width="2.9" height="37.4" fill="#089981"/>
<rect x="678.22" y="190.2" width="1.0" height="19.4" fill="#f23645" opacity="0.62"/>
<rect x="677.27" y="198.9" width="2.9" height="2.4" fill="#f23645"/>
<rect x="681.76" y="198.1" width="1.0" height="19.7" fill="#f23645" opacity="0.62"/>
<rect x="680.81" y="201.0" width="2.9" height="11.0" fill="#f23645"/>
<rect x="685.31" y="209.9" width="1.0" height="43.2" fill="#f23645" opacity="0.62"/>
<rect x="684.36" y="212.5" width="2.9" height="26.3" fill="#f23645"/>
<rect x="688.86" y="234.2" width="1.0" height="24.6" fill="#089981" opacity="0.62"/>
<rect x="687.91" y="235.0" width="2.9" height="8.2" fill="#089981"/>
<rect x="692.40" y="230.6" width="1.0" height="25.8" fill="#f23645" opacity="0.62"/>
<rect x="691.45" y="237.1" width="2.9" height="15.5" fill="#f23645"/>
<rect x="695.95" y="252.3" width="1.0" height="39.3" fill="#f23645" opacity="0.62"/>
<rect x="695.00" y="253.6" width="2.9" height="33.0" fill="#f23645"/>
<rect x="699.49" y="280.0" width="1.0" height="9.0" fill="#f23645" opacity="0.62"/>
<rect x="698.54" y="285.8" width="2.9" height="1.7" fill="#f23645"/>
<rect x="703.04" y="267.7" width="1.0" height="23.0" fill="#089981" opacity="0.62"/>
<rect x="702.09" y="282.0" width="2.9" height="7.1" fill="#089981"/>
<rect x="706.59" y="282.5" width="1.0" height="37.4" fill="#f23645" opacity="0.62"/>
<rect x="705.64" y="283.0" width="2.9" height="36.5" fill="#f23645"/>
<rect x="710.13" y="301.4" width="1.0" height="18.5" fill="#089981" opacity="0.62"/>
<rect x="709.18" y="312.1" width="2.9" height="7.4" fill="#089981"/>
<rect x="713.68" y="288.3" width="1.0" height="29.2" fill="#089981" opacity="0.62"/>
<rect x="712.73" y="293.5" width="2.9" height="20.2" fill="#089981"/>
<rect x="717.22" y="279.2" width="1.0" height="23.0" fill="#089981" opacity="0.62"/>
<rect x="716.27" y="288.3" width="2.9" height="4.9" fill="#089981"/>
<rect x="720.77" y="273.2" width="1.0" height="27.4" fill="#089981" opacity="0.62"/>
<rect x="719.82" y="279.2" width="2.9" height="12.4" fill="#089981"/>
<rect x="724.32" y="277.6" width="1.0" height="18.9" fill="#f23645" opacity="0.62"/>
<rect x="723.37" y="281.4" width="2.9" height="14.3" fill="#f23645"/>
<rect x="727.86" y="281.4" width="1.0" height="38.1" fill="#f23645" opacity="0.62"/>
<rect x="726.91" y="295.7" width="2.9" height="13.1" fill="#f23645"/>
<rect x="731.41" y="276.0" width="1.0" height="37.7" fill="#089981" opacity="0.62"/>
<rect x="730.46" y="280.4" width="2.9" height="32.8" fill="#089981"/>
<rect x="734.95" y="277.6" width="1.0" height="30.7" fill="#f23645" opacity="0.62"/>
<rect x="734.00" y="286.3" width="2.9" height="1.3" fill="#f23645"/>
<rect x="738.50" y="277.6" width="1.0" height="19.2" fill="#089981" opacity="0.62"/>
<rect x="737.55" y="282.5" width="2.9" height="6.6" fill="#089981"/>
<rect x="742.05" y="235.0" width="1.0" height="49.7" fill="#089981" opacity="0.62"/>
<rect x="741.10" y="238.3" width="2.9" height="45.9" fill="#089981"/>
<rect x="745.59" y="192.8" width="1.0" height="50.8" fill="#089981" opacity="0.62"/>
<rect x="744.64" y="195.6" width="2.9" height="47.6" fill="#089981"/>
<rect x="749.14" y="192.8" width="1.0" height="24.6" fill="#f23645" opacity="0.62"/>
<rect x="748.19" y="199.4" width="2.9" height="17.5" fill="#f23645"/>
<rect x="752.68" y="215.3" width="1.0" height="23.5" fill="#f23645" opacity="0.62"/>
<rect x="751.73" y="215.8" width="2.9" height="11.0" fill="#f23645"/>
<rect x="756.23" y="217.8" width="1.0" height="19.7" fill="#f23645" opacity="0.62"/>
<rect x="755.28" y="226.8" width="2.9" height="2.1" fill="#f23645"/>
<rect x="759.78" y="226.8" width="1.0" height="27.9" fill="#f23645" opacity="0.62"/>
<rect x="758.83" y="230.1" width="2.9" height="15.9" fill="#f23645"/>
<rect x="763.32" y="213.7" width="1.0" height="35.3" fill="#089981" opacity="0.62"/>
<rect x="762.37" y="242.4" width="2.9" height="5.7" fill="#089981"/>
<rect x="766.87" y="238.3" width="1.0" height="27.9" fill="#f23645" opacity="0.62"/>
<rect x="765.92" y="242.4" width="2.9" height="20.5" fill="#f23645"/>
<rect x="770.41" y="252.2" width="1.0" height="16.5" fill="#089981" opacity="0.62"/>
<rect x="769.46" y="259.1" width="2.9" height="6.3" fill="#089981"/>
<rect x="773.96" y="235.8" width="1.0" height="31.2" fill="#089981" opacity="0.62"/>
<rect x="773.01" y="236.7" width="2.9" height="30.0" fill="#089981"/>
<rect x="777.51" y="236.7" width="1.0" height="16.4" fill="#f23645" opacity="0.62"/>
<rect x="776.56" y="237.1" width="2.9" height="14.3" fill="#f23645"/>
<rect x="781.05" y="224.0" width="1.0" height="49.6" fill="#f23645" opacity="0.62"/>
<rect x="780.10" y="253.6" width="2.9" height="19.2" fill="#f23645"/>
<rect x="784.60" y="271.5" width="1.0" height="37.3" fill="#f23645" opacity="0.62"/>
<rect x="783.65" y="272.2" width="2.9" height="26.7" fill="#f23645"/>
<rect x="788.14" y="258.5" width="1.0" height="41.5" fill="#089981" opacity="0.62"/>
<rect x="787.19" y="268.7" width="2.9" height="30.9" fill="#089981"/>
<rect x="791.69" y="266.5" width="1.0" height="50.5" fill="#f23645" opacity="0.62"/>
<rect x="790.74" y="271.4" width="2.9" height="41.5" fill="#f23645"/>
<rect x="795.24" y="313.0" width="1.0" height="36.9" fill="#f23645" opacity="0.62"/>
<rect x="794.29" y="313.7" width="2.9" height="31.7" fill="#f23645"/>
<rect x="798.78" y="332.8" width="1.0" height="22.2" fill="#089981" opacity="0.62"/>
<rect x="797.83" y="340.2" width="2.9" height="7.8" fill="#089981"/>
<rect x="802.33" y="314.6" width="1.0" height="33.0" fill="#089981" opacity="0.62"/>
<rect x="801.38" y="331.9" width="2.9" height="9.8" fill="#089981"/>
<rect x="805.87" y="325.4" width="1.0" height="11.1" fill="#089981" opacity="0.62"/>
<rect x="804.92" y="329.5" width="2.9" height="2.9" fill="#089981"/>
<rect x="809.42" y="330.0" width="1.0" height="32.4" fill="#f23645" opacity="0.62"/>
<rect x="808.47" y="331.9" width="2.9" height="11.1" fill="#f23645"/>
<rect x="812.97" y="331.0" width="1.0" height="19.0" fill="#f23645" opacity="0.62"/>
<rect x="812.02" y="343.9" width="2.9" height="5.6" fill="#f23645"/>
<rect x="816.51" y="311.3" width="1.0" height="44.7" fill="#f23645" opacity="0.62"/>
<rect x="815.56" y="350.4" width="2.9" height="4.6" fill="#f23645"/>
<rect x="820.06" y="354.0" width="1.0" height="13.6" fill="#f23645" opacity="0.62"/>
<rect x="819.11" y="355.0" width="2.9" height="9.3" fill="#f23645"/>
<rect x="823.60" y="359.7" width="1.0" height="21.3" fill="#f23645" opacity="0.62"/>
<rect x="822.65" y="364.3" width="2.9" height="3.3" fill="#f23645"/>
<rect x="827.15" y="352.3" width="1.0" height="29.7" fill="#f23645" opacity="0.62"/>
<rect x="826.20" y="367.6" width="2.9" height="13.7" fill="#f23645"/>
<rect x="830.70" y="381.0" width="1.0" height="16.6" fill="#f23645" opacity="0.62"/>
<rect x="829.75" y="381.3" width="2.9" height="13.6" fill="#f23645"/>
<rect x="834.24" y="391.1" width="1.0" height="28.4" fill="#f23645" opacity="0.62"/>
<rect x="833.29" y="397.3" width="2.9" height="6.3" fill="#f23645"/>
<rect x="837.79" y="395.8" width="1.0" height="18.1" fill="#089981" opacity="0.62"/>
<rect x="836.84" y="402.8" width="2.9" height="2.6" fill="#089981"/>
<rect x="841.33" y="394.3" width="1.0" height="15.4" fill="#089981" opacity="0.62"/>
<rect x="840.38" y="398.6" width="2.9" height="3.7" fill="#089981"/>
<rect x="844.88" y="379.1" width="1.0" height="22.6" fill="#089981" opacity="0.62"/>
<rect x="843.93" y="394.9" width="2.9" height="5.5" fill="#089981"/>
<rect x="848.43" y="369.5" width="1.0" height="29.1" fill="#089981" opacity="0.62"/>
<rect x="847.48" y="370.2" width="2.9" height="26.5" fill="#089981"/>
<rect x="851.97" y="366.5" width="1.0" height="31.5" fill="#f23645" opacity="0.62"/>
<rect x="851.02" y="373.2" width="2.9" height="24.1" fill="#f23645"/>
<rect x="855.52" y="386.9" width="1.0" height="25.9" fill="#f23645" opacity="0.62"/>
<rect x="854.57" y="397.6" width="2.9" height="6.0" fill="#f23645"/>
<rect x="859.06" y="387.4" width="1.0" height="16.2" fill="#089981" opacity="0.62"/>
<rect x="858.11" y="392.1" width="2.9" height="11.1" fill="#089981"/>
<rect x="862.61" y="367.1" width="1.0" height="36.5" fill="#089981" opacity="0.62"/>
<rect x="861.66" y="370.2" width="2.9" height="23.4" fill="#089981"/>
<rect x="866.16" y="351.7" width="1.0" height="25.6" fill="#f23645" opacity="0.62"/>
<rect x="865.21" y="371.3" width="2.9" height="1.5" fill="#f23645"/>
<rect x="869.70" y="357.8" width="1.0" height="16.7" fill="#089981" opacity="0.62"/>
<rect x="868.75" y="368.4" width="2.9" height="5.2" fill="#089981"/>
<rect x="873.25" y="352.3" width="1.0" height="35.7" fill="#f23645" opacity="0.62"/>
<rect x="872.30" y="370.2" width="2.9" height="13.5" fill="#f23645"/>
<rect x="876.79" y="370.2" width="1.0" height="17.8" fill="#089981" opacity="0.62"/>
<rect x="875.84" y="378.7" width="2.9" height="8.7" fill="#089981"/>
<rect x="880.34" y="376.3" width="1.0" height="45.4" fill="#f23645" opacity="0.62"/>
<rect x="879.39" y="380.6" width="2.9" height="33.3" fill="#f23645"/>
<rect x="883.89" y="412.5" width="1.0" height="9.7" fill="#f23645" opacity="0.62"/>
<rect x="882.94" y="413.4" width="2.9" height="8.3" fill="#f23645"/>
<line x1="657" x2="931" y1="192.77" y2="192.77" stroke="#111" stroke-width="1.7"/>
<line x1="660" x2="931" y1="320.04" y2="320.04" stroke="#111" stroke-width="1.7"/>
<line x1="614" x2="931" y1="367.51" y2="367.51" stroke="#111" stroke-width="1.7"/>
<path d="M823.9 337.8 H830.6 V343.1 H833.3 L827.3 350.4 L821.2 343.1 H823.9 Z" fill="#c7243a"/>
<text x="493" y="144.6" font-size="13.2" font-weight="bold" fill="#2a62fa" textLength="53" lengthAdjust="spacingAndGlyphs">AUDUSD</text>
</g>
<text x="936" y="43.40" font-size="7.5" fill="#2a2e39" textLength="25" lengthAdjust="spacingAndGlyphs">0.72500</text>
<text x="936" y="64.80" font-size="7.5" fill="#2a2e39" textLength="25" lengthAdjust="spacingAndGlyphs">0.72000</text>
<text x="936" y="86.21" font-size="7.5" fill="#2a2e39" textLength="25" lengthAdjust="spacingAndGlyphs">0.71500</text>
<text x="936" y="107.61" font-size="7.5" fill="#2a2e39" textLength="25" lengthAdjust="spacingAndGlyphs">0.71000</text>
<text x="936" y="129.02" font-size="7.5" fill="#2a2e39" textLength="25" lengthAdjust="spacingAndGlyphs">0.70500</text>
<text x="936" y="150.42" font-size="7.5" fill="#2a2e39" textLength="25" lengthAdjust="spacingAndGlyphs">0.70000</text>
<text x="936" y="171.82" font-size="7.5" fill="#2a2e39" textLength="25" lengthAdjust="spacingAndGlyphs">0.69500</text>
<text x="936" y="193.23" font-size="7.5" fill="#2a2e39" textLength="25" lengthAdjust="spacingAndGlyphs">0.69000</text>
<text x="936" y="214.63" font-size="7.5" fill="#2a2e39" textLength="25" lengthAdjust="spacingAndGlyphs">0.68500</text>
<text x="936" y="236.04" font-size="7.5" fill="#2a2e39" textLength="25" lengthAdjust="spacingAndGlyphs">0.68000</text>
<text x="936" y="257.44" font-size="7.5" fill="#2a2e39" textLength="25" lengthAdjust="spacingAndGlyphs">0.67500</text>
<text x="936" y="278.84" font-size="7.5" fill="#2a2e39" textLength="25" lengthAdjust="spacingAndGlyphs">0.67000</text>
<text x="936" y="300.25" font-size="7.5" fill="#2a2e39" textLength="25" lengthAdjust="spacingAndGlyphs">0.66500</text>
<text x="936" y="321.65" font-size="7.5" fill="#2a2e39" textLength="25" lengthAdjust="spacingAndGlyphs">0.66000</text>
<text x="936" y="343.06" font-size="7.5" fill="#2a2e39" textLength="25" lengthAdjust="spacingAndGlyphs">0.65500</text>
<text x="936" y="364.46" font-size="7.5" fill="#2a2e39" textLength="25" lengthAdjust="spacingAndGlyphs">0.65000</text>
<text x="936" y="385.86" font-size="7.5" fill="#2a2e39" textLength="25" lengthAdjust="spacingAndGlyphs">0.64500</text>
<text x="936" y="407.27" font-size="7.5" fill="#2a2e39" textLength="25" lengthAdjust="spacingAndGlyphs">0.64000</text>
<text x="936" y="428.67" font-size="7.5" fill="#2a2e39" textLength="25" lengthAdjust="spacingAndGlyphs">0.63500</text>
<text x="936" y="450.08" font-size="7.5" fill="#2a2e39" textLength="25" lengthAdjust="spacingAndGlyphs">0.63000</text>
<text x="936" y="471.48" font-size="7.5" fill="#2a2e39" textLength="25" lengthAdjust="spacingAndGlyphs">0.62500</text>
<text x="936" y="492.88" font-size="7.5" fill="#2a2e39" textLength="25" lengthAdjust="spacingAndGlyphs">0.62000</text>
<text x="936" y="514.29" font-size="7.5" fill="#2a2e39" textLength="25" lengthAdjust="spacingAndGlyphs">0.61500</text>
<text x="936" y="535.69" font-size="7.5" fill="#2a2e39" textLength="25" lengthAdjust="spacingAndGlyphs">0.61000</text>
<text x="936" y="557.10" font-size="7.5" fill="#2a2e39" textLength="25" lengthAdjust="spacingAndGlyphs">0.60500</text>
<text x="29.6" y="567.2" font-size="7.5" fill="#2a2e39" text-anchor="middle">Oct</text>
<text x="104.1" y="567.2" font-size="7.5" fill="#2a2e39" text-anchor="middle">Nov</text>
<text x="182.1" y="567.2" font-size="7.5" fill="#2a2e39" text-anchor="middle">Dec</text>
<text x="256.5" y="567.2" font-size="7.5" fill="#2a2e39" text-anchor="middle">2023</text>
<text x="334.6" y="567.2" font-size="7.5" fill="#2a2e39" text-anchor="middle">Feb</text>
<text x="405.5" y="567.2" font-size="7.5" fill="#2a2e39" text-anchor="middle">Mar</text>
<text x="487.0" y="567.2" font-size="7.5" fill="#2a2e39" text-anchor="middle">Apr</text>
<text x="558.0" y="567.2" font-size="7.5" fill="#2a2e39" text-anchor="middle">May</text>
<text x="639.5" y="567.2" font-size="7.5" fill="#2a2e39" text-anchor="middle">Jun</text>
<text x="717.5" y="567.2" font-size="7.5" fill="#2a2e39" text-anchor="middle">Jul</text>
<text x="792.0" y="567.2" font-size="7.5" fill="#2a2e39" text-anchor="middle">Aug</text>
<text x="873.5" y="567.2" font-size="7.5" fill="#2a2e39" text-anchor="middle">Sep</text>
<text x="923.2" y="567.2" font-size="7.5" fill="#2a2e39" text-anchor="middle">21</text>
<rect x="933.5" y="18.5" width="33" height="14" rx="2" fill="#fff" stroke="#e4e6f0" stroke-width="1"/>
<text x="939.3" y="28.2" font-size="7.5" fill="#2a2e39" textLength="12.5" lengthAdjust="spacingAndGlyphs">USD</text>
<rect x="931.3" y="80.40" width="33" height="19.90" fill="#f23645"/>
<text x="935.6" y="88.60" font-size="7.5" fill="#fff" font-weight="bold" textLength="25.5" lengthAdjust="spacingAndGlyphs">0.71376</text>
<text x="935.6" y="98.50" font-size="7.5" fill="#fff" font-weight="bold" textLength="25.5" lengthAdjust="spacingAndGlyphs">0.71220</text>
<rect x="931.3" y="187.77" width="33" height="10.00" fill="#111"/>
<text x="935.6" y="195.47" font-size="7.5" fill="#fff" font-weight="bold" textLength="25.5" lengthAdjust="spacingAndGlyphs">0.68950</text>
<rect x="931.3" y="315.04" width="33" height="10.00" fill="#111"/>
<text x="935.6" y="322.74" font-size="7.5" fill="#fff" font-weight="bold" textLength="25.5" lengthAdjust="spacingAndGlyphs">0.65977</text>
<rect x="931.3" y="362.51" width="33" height="10.00" fill="#111"/>
<text x="935.6" y="370.21" font-size="7.5" fill="#fff" font-weight="bold" textLength="25.5" lengthAdjust="spacingAndGlyphs">0.64868</text>
<rect x="931.3" y="416.26" width="33" height="18.10" fill="#f23645"/>
<text x="935.6" y="423.96" font-size="7.5" fill="#fff" font-weight="bold" textLength="25.5" lengthAdjust="spacingAndGlyphs">0.63610</text>
<text x="935.6" y="432.36" font-size="7.5" fill="#fff" textLength="25.5" lengthAdjust="spacingAndGlyphs">18:54:15</text>
<text x="6" y="11.3" font-size="7.9" fill="#2a2e39" textLength="227" lengthAdjust="spacingAndGlyphs">Pepperstone published on TradingView.com, Sep 06, 2023 12:04 UTC+10</text>
<text x="10.7" y="27.3" font-size="7.5" fill="#131722" textLength="154.7" lengthAdjust="spacingAndGlyphs">Australian Dollar / U.S. Dollar, 1D, PEPPERSTONE</text>
<text x="169.9" y="27.3" font-size="7.5" fill="#131722" textLength="4.4" lengthAdjust="spacingAndGlyphs">O</text>
<text x="174.2" y="27.3" font-size="7.5" fill="#f23645" textLength="25.4" lengthAdjust="spacingAndGlyphs">0.63781</text>
<text x="203.6" y="27.3" font-size="7.5" fill="#131722" textLength="4.2" lengthAdjust="spacingAndGlyphs">H</text>
<text x="207.8" y="27.3" font-size="7.5" fill="#f23645" textLength="25.2" lengthAdjust="spacingAndGlyphs">0.63812</text>
<text x="237.6" y="27.3" font-size="7.5" fill="#131722" textLength="3.3" lengthAdjust="spacingAndGlyphs">L</text>
<text x="240.8" y="27.3" font-size="7.5" fill="#f23645" textLength="25.4" lengthAdjust="spacingAndGlyphs">0.63582</text>
<text x="270.8" y="27.3" font-size="7.5" fill="#131722" textLength="4.1" lengthAdjust="spacingAndGlyphs">C</text>
<text x="274.7" y="27.3" font-size="7.5" fill="#f23645" textLength="24.8" lengthAdjust="spacingAndGlyphs">0.63610</text>
<text x="304.6" y="27.3" font-size="7.5" fill="#f23645" textLength="27.4" lengthAdjust="spacingAndGlyphs">−0.00169</text>
<text x="334.6" y="27.3" font-size="7.5" fill="#f23645" textLength="27" lengthAdjust="spacingAndGlyphs">(−0.26%)</text>
<text x="10.7" y="37.3" font-size="7.5" fill="#131722" textLength="78.6" lengthAdjust="spacingAndGlyphs">EMA (5, close, 0, SMA, 5)</text>
<text x="94" y="37.3" font-size="7.5" fill="#2962ff" textLength="24.4" lengthAdjust="spacingAndGlyphs">0.64087</text>
<text x="10.7" y="47.3" font-size="7.5" fill="#131722" textLength="82" lengthAdjust="spacingAndGlyphs">MA (200, close, 0, SMA, 5)</text>
<text x="97.3" y="47.3" font-size="7.5" fill="#f23645" textLength="24.7" lengthAdjust="spacingAndGlyphs">0.67167</text>
<g fill="#131722"><path d="M5.9 580.5 H11.5 V586 H8.4 V583.1 H5.9 Z"/><circle cx="12.5" cy="581.5" r="0.95"/><path d="M14 580.5 H17.1 L14.6 586 H11.6 Z"/></g>
<text x="19.7" y="585.8" font-size="8" fill="#3c404b" textLength="41.3" lengthAdjust="spacingAndGlyphs">TradingView</text>
</svg></body></html>
